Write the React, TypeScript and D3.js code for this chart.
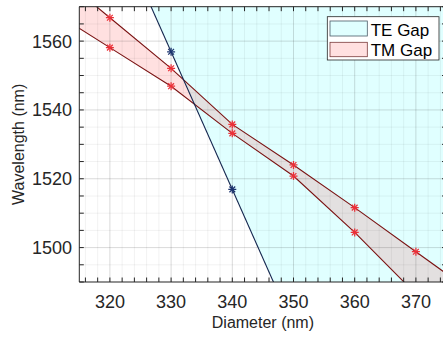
import React from "react";
import * as d3 from "d3";

// ---- data ----
const diameters = [320, 330, 340, 350, 360, 370];
const tmUpper = [1566.8, 1552.1, 1535.8, 1524.0, 1511.6, 1498.8];
const tmLower = [1558.1, 1546.9, 1533.2, 1520.8, 1504.4, 1486.5];
const teDiameters = [330, 340];
const teWavelengths = [1556.9, 1516.9];
const xTicks = [320, 330, 340, 350, 360, 370];
const yTicks = [1500, 1520, 1540, 1560];
const legendLabels = ["TE Gap", "TM Gap"];

const W = 443;
const H = 338;
const M = { left: 79.3, right: 446.5, top: 6.7, bottom: 282 };
const FONT = "'Liberation Sans', Arial, Helvetica, sans-serif";
const AX = "#262626";

export default function App() {
  const x = d3.scaleLinear().domain([315, 375]).range([M.left, M.right]);
  const y = d3.scaleLinear().domain([1490, 1570]).range([M.bottom, M.top]);

  // piecewise linear (with linear extrapolation at ends)
  const up = d3.scaleLinear().domain(diameters).range(tmUpper);
  const lo = d3.scaleLinear().domain(diameters).range(tmLower);
  const te = d3.scaleLinear().domain(teDiameters).range(teWavelengths);

  const ext = [305, ...diameters, 385];
  const line = d3
    .line<[number, number]>()
    .x((d) => x(d[0]))
    .y((d) => y(d[1]));

  const upPts: [number, number][] = ext.map((d) => [d, up(d)]);
  const loPts: [number, number][] = ext.map((d) => [d, lo(d)]);
  const tmPoly = [...upPts, ...[...loPts].reverse()];
  const tePts: [number, number][] = [
    [305, te(305)],
    [385, te(385)],
  ];
  const tePoly: [number, number][] = [
    [305, te(305)],
    [385, te(385)],
    [385, te(305)],
  ];

  const xMinor = d3.range(316, 375, 2).filter((v) => v % 10 !== 0);
  const yMinor = d3.range(1490, 1571, 5).filter((v) => v % 20 !== 0);

  const star = (cx: number, cy: number, color: string, key: string) => {
    const r = 4;
    const r2 = r * 0.72;
    return (
      <g key={key} stroke={color} strokeWidth={1.25}>
        <line x1={cx - r} y1={cy} x2={cx + r} y2={cy} />
        <line x1={cx} y1={cy - r} x2={cx} y2={cy + r} />
        <line x1={cx - r2} y1={cy - r2} x2={cx + r2} y2={cy + r2} />
        <line x1={cx - r2} y1={cy + r2} x2={cx + r2} y2={cy - r2} />
      </g>
    );
  };

  const tickLen = 4.5;

  return (
    <svg
      width={W}
      height={H}
      style={{ position: "absolute", left: 0, top: 0, background: "#fff" }}
      fontFamily={FONT}
    >
      <defs>
        <clipPath id="plot">
          <rect x={M.left} y={M.top} width={M.right - M.left} height={M.bottom - M.top} />
        </clipPath>
      </defs>
      <rect x={0} y={0} width={W} height={H} fill="#fff" />
      <g clipPath="url(#plot)">
        <path d={line(tePoly)! + "Z"} fill="#00ffff" fillOpacity={0.12} stroke="none" />
        <path d={line(tmPoly)! + "Z"} fill="#ff0000" fillOpacity={0.12} stroke="none" />
        {/* minor grid */}
        {xMinor.map((v) => (
          <line key={"xm" + v} x1={x(v)} x2={x(v)} y1={M.top} y2={M.bottom} stroke="#262626" strokeOpacity={0.06} />
        ))}
        {yMinor.map((v) => (
          <line key={"ym" + v} x1={M.left} x2={M.right} y1={y(v)} y2={y(v)} stroke="#262626" strokeOpacity={0.06} />
        ))}
        {/* major grid */}
        {xTicks.map((v) => (
          <line key={"xg" + v} x1={x(v)} x2={x(v)} y1={M.top} y2={M.bottom} stroke="#262626" strokeOpacity={0.17} />
        ))}
        {yTicks.map((v) => (
          <line key={"yg" + v} x1={M.left} x2={M.right} y1={y(v)} y2={y(v)} stroke="#262626" strokeOpacity={0.17} />
        ))}
        <path d={line(upPts)!} fill="none" stroke="#7a1212" strokeWidth={1.1} />
        <path d={line(loPts)!} fill="none" stroke="#7a1212" strokeWidth={1.1} />
        <path d={line(tePts)!} fill="none" stroke="#14264f" strokeWidth={1.1} />
        {diameters.map((d, i) => star(x(d), y(tmUpper[i]), "#ec3038", "su" + i))}
        {diameters.map((d, i) => star(x(d), y(tmLower[i]), "#ec3038", "sl" + i))}
        {teDiameters.map((d, i) => star(x(d), y(teWavelengths[i]), "#1c3570", "st" + i))}
      </g>

      {/* axes box */}
      <g stroke={AX} strokeWidth={1} fill="none">
        <line x1={M.left} x2={M.right} y1={M.bottom} y2={M.bottom} />
        <line x1={M.left} x2={M.right} y1={M.top} y2={M.top} />
        <line x1={M.left} x2={M.left} y1={M.top} y2={M.bottom} />
        <line x1={M.right} x2={M.right} y1={M.top} y2={M.bottom} />
        {[...xTicks, ...xMinor].map((v) => (
          <g key={"xt" + v}>
            <line x1={x(v)} x2={x(v)} y1={M.bottom} y2={M.bottom - tickLen} />
            <line x1={x(v)} x2={x(v)} y1={M.top} y2={M.top + tickLen} />
          </g>
        ))}
        {[...yTicks, ...yMinor].map((v) => (
          <g key={"yt" + v}>
            <line x1={M.left} x2={M.left + tickLen} y1={y(v)} y2={y(v)} />
            <line x1={M.right} x2={M.right - tickLen} y1={y(v)} y2={y(v)} />
          </g>
        ))}
      </g>

      {/* tick labels */}
      <g fill={AX} fontSize={18}>
        {xTicks.map((v) => (
          <text key={"xl" + v} x={x(v)} y={307.5} textAnchor="middle">
            {v}
          </text>
        ))}
        {yTicks.map((v) => (
          <text key={"yl" + v} x={72} y={y(v) + 6.4} textAnchor="end">
            {v}
          </text>
        ))}
      </g>

      {/* axis labels */}
      <text x={(M.left + M.right) / 2} y={328} textAnchor="middle" fontSize={16} fill={AX}>
        Diameter (nm)
      </text>
      <text
        transform={`translate(23.5, ${(M.top + M.bottom) / 2}) rotate(-90)`}
        textAnchor="middle"
        fontSize={16}
        fill={AX}
      >
        Wavelength (nm)
      </text>

      {/* legend */}
      <g>
        <rect x={327.3} y={16.7} width={111.7} height={43.3} fill="#fff" stroke={AX} strokeWidth={0.8} />
        <rect x={330} y={21} width={37.3} height={15} fill="#e0ffff" stroke="#4a5a66" strokeWidth={0.8} />
        <rect x={330} y={42.3} width={37.3} height={14.4} fill="#ffe0e0" stroke="#7a3a3a" strokeWidth={0.8} />
        <text x={370.7} y={35.8} fontSize={17} fill="#000">
          {legendLabels[0]}
        </text>
        <text x={370.7} y={56} fontSize={17} fill="#000">
          {legendLabels[1]}
        </text>
      </g>
    </svg>
  );
}
